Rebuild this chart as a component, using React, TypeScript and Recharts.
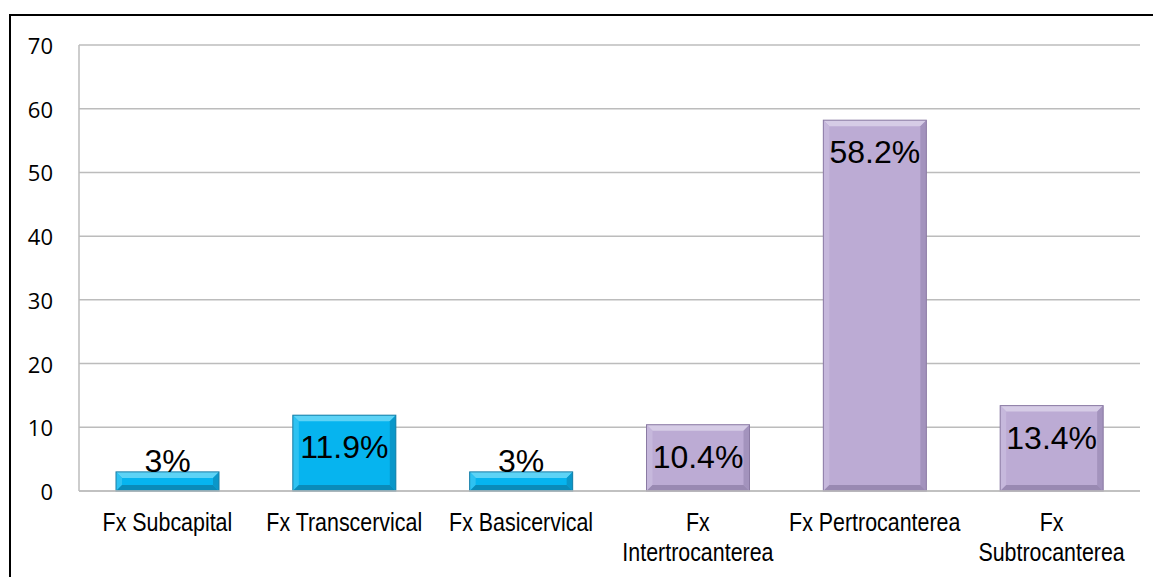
import { BarChart, Bar, XAxis, YAxis, CartesianGrid, LabelList, Cell } from "recharts";

const categories = [
  "Fx Subcapital",
  "Fx Transcervical",
  "Fx Basicervical",
  "Fx\nIntertrocanterea",
  "Fx Pertrocanterea",
  "Fx\nSubtrocanterea",
];
const values = [3, 11.9, 3, 10.4, 58.2, 13.4];
const yTicks = [0, 10, 20, 30, 40, 50, 60, 70];
const barGroup = ["blue", "blue", "blue", "purple", "purple", "purple"];

const palette: Record<string, { main: string; top: string; left: string; right: string; bottom: string; edge: string }> = {
  blue: { main: "#06b4ef", top: "#5dd3f6", left: "#2ec2f2", right: "#0a97c9", bottom: "#0a8bb9", edge: "#1a7ea6" },
  purple: { main: "#bcabd4", top: "#d6cce6", left: "#c6b8dc", right: "#a393bd", bottom: "#9989b2", edge: "#8a7aa3" },
};

const data = categories.map((name, i) => ({ name, value: values[i], group: barGroup[i] }));

function BevelBar(props: any) {
  const { x, y, width: w, height: h, group } = props;
  if (!h || h <= 0) return null;
  const c = palette[group];
  const b = Math.min(6, h / 3);
  return (
    <g>
      <rect x={x} y={y} width={w} height={h} fill={c.main} />
      <polygon points={`${x},${y} ${x + w},${y} ${x + w - b},${y + b} ${x + b},${y + b}`} fill={c.top} />
      <polygon points={`${x},${y} ${x + b},${y + b} ${x + b},${y + h - b} ${x},${y + h}`} fill={c.left} />
      <polygon points={`${x + w},${y} ${x + w},${y + h} ${x + w - b},${y + h - b} ${x + w - b},${y + b}`} fill={c.right} />
      <polygon points={`${x},${y + h} ${x + w},${y + h} ${x + w - b},${y + h - b} ${x + b},${y + h - b}`} fill={c.bottom} />
      <rect x={x} y={y} width={w} height={h} fill="none" stroke={c.edge} strokeWidth={1} />
    </g>
  );
}

function ValueLabel(props: any) {
  const { x, y, width, height, value } = props;
  const bottom = y + height;
  const cy = Math.min(y + 32, bottom - 30);
  return (
    <text
      x={x + width / 2}
      y={cy}
      textAnchor="middle"
      dominantBaseline="central"
      fontFamily="'Liberation Sans', Arial, sans-serif"
      fontSize={32}
      fill="#000"
    >
      {`${value}%`}
    </text>
  );
}

function CategoryTick(props: any) {
  const { x, y, payload } = props;
  const lines = String(payload.value).split("\n");
  return (
    <g>
      {lines.map((line: string, i: number) => (
        <text
          key={i}
          transform={`translate(${x},${y + 31 + i * 30}) scale(0.84,1)`}
          textAnchor="middle"
          dominantBaseline="central"
          fontFamily="'Liberation Sans', Arial, sans-serif"
          fontSize={25.5}
          fill="#000"
        >
          {line}
        </text>
      ))}
    </g>
  );
}

function ValueTick(props: any) {
  const { y, payload } = props;
  return (
    <text
      x={53}
      y={y}
      textAnchor="end"
      dominantBaseline="central"
      fontFamily="'Open Sans', sans-serif"
      fontSize={22}
      fill="#000"
    >
      {payload.value}
    </text>
  );
}

export default function App() {
  return (
    <div style={{ position: "absolute", left: 0, top: 0, width: 1153, height: 577, overflow: "hidden", background: "#fff" }}>
      <div
        style={{
          position: "absolute",
          left: 9,
          top: 14,
          width: 1200,
          height: 600,
          borderLeft: "2px solid #000",
          borderTop: "2px solid #000",
        }}
      />
      <div style={{ position: "absolute", left: 0, top: 0 }}>
        <BarChart width={1153} height={577} data={data} margin={{ top: 45, right: 13, bottom: 26, left: 19 }}>
          <CartesianGrid vertical={false} stroke="#bcbcbc" strokeWidth={1.5} />
          <XAxis
            dataKey="name"
            interval={0}
            tickLine={false}
            tickSize={0}
            tickMargin={0}
            height={60}
            axisLine={{ stroke: "#bcbcbc", strokeWidth: 1.5 }}
            tick={<CategoryTick />}
          />
          <YAxis
            domain={[0, 70]}
            ticks={yTicks}
            width={60}
            tickLine={false}
            tickSize={0}
            tickMargin={26}
            axisLine={{ stroke: "#bcbcbc", strokeWidth: 1.5 }}
            tick={<ValueTick />}
          />
          <Bar dataKey="value" barSize={103} isAnimationActive={false} shape={<BevelBar />}>
            {data.map((d, i) => (
              <Cell key={i} fill={palette[d.group].main} />
            ))}
            <LabelList dataKey="value" content={<ValueLabel />} />
          </Bar>
        </BarChart>
      </div>
    </div>
  );
}
